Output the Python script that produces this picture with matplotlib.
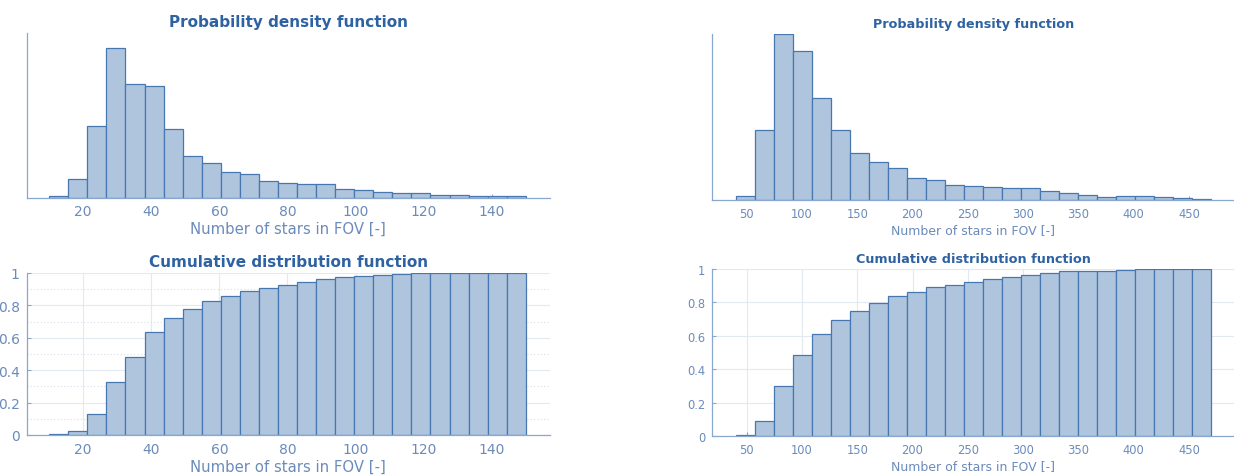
import numpy as np
import matplotlib
matplotlib.use("Agg")
import matplotlib.pyplot as plt
from matplotlib.ticker import FuncFormatter, MultipleLocator

# histogram ranges (first edge, last edge, number of bins)
bins_small = (10, 150, 25)
bins_large = (40, 470, 25)

# star counts per bin, narrow field of view
pdf_small = [4, 57, 214, 449, 340, 335, 206, 124, 105, 76, 71, 50, 45,
             41, 41, 25, 22, 18, 15, 13, 8, 7, 4, 4, 4]
cdf_small = [0.006, 0.027, 0.127, 0.33, 0.48, 0.635, 0.724, 0.78, 0.827,
             0.857, 0.886, 0.906, 0.929, 0.945, 0.961, 0.973, 0.984, 0.988,
             0.994, 0.998, 0.999, 1.0, 1.0, 1.0, 1.0]

# star counts per bin, wide field of view
pdf_large = [13, 209, 499, 447, 306, 209, 140, 113, 97, 67, 59, 46, 43,
             40, 35, 35, 27, 22, 16, 8, 12, 11, 8, 5, 2]
cdf_large = [0.006, 0.09, 0.30, 0.483, 0.609, 0.697, 0.75, 0.798, 0.836,
             0.864, 0.89, 0.906, 0.922, 0.938, 0.954, 0.966, 0.976, 0.986,
             0.99, 0.99, 0.996, 1.0, 1.0, 1.0, 1.0]

ticks_small = [20, 40, 60, 80, 100, 120, 140]
ticks_large = [50, 100, 150, 200, 250, 300, 350, 400, 450]
cdf_ticks = [0, 0.2, 0.4, 0.6, 0.8, 1]

face = "#afc5de"
edge = "#4677b0"
spine = "#8aa7cf"
label_c = "#6b8bbb"
title_c = "#2e62a2"
grid_c = "#e2e9f2"

fig = plt.figure(figsize=(12.34, 4.77), dpi=100)
W, H = 1234.0, 477.0


def box(l, t, r, b):
    return [l / W, 1 - b / H, (r - l) / W, (b - t) / H]


def style(ax, fs):
    for s in ["top", "right"]:
        ax.spines[s].set_visible(False)
    for s in ["left", "bottom"]:
        ax.spines[s].set_color(spine)
        ax.spines[s].set_linewidth(0.9)
    ax.tick_params(direction="in", length=3, width=0.8, color=spine,
                   labelcolor=label_c, labelsize=fs, pad=5)


def draw(ax, rng, heights, xticks, xlim, fs, lfs, tfs, title, cdf=False):
    edges = np.linspace(*rng[:2], rng[2] + 1)
    ax.bar(edges[:-1], heights, width=np.diff(edges), align="edge",
           color=face, edgecolor=edge, linewidth=0.9, zorder=2)
    style(ax, fs)
    ax.set_xlim(*xlim)
    ax.set_xticks(xticks)
    ax.set_xlabel("Number of stars in FOV [-]", fontsize=lfs,
                  color=label_c, labelpad=2)
    ax.set_title(title, fontsize=tfs, fontweight="bold", color=title_c,
                 pad=5)
    if cdf:
        ax.set_ylim(0, 1)
        ax.set_yticks(cdf_ticks)
        ax.yaxis.set_major_formatter(FuncFormatter(lambda v, p: "%g" % v))
        ax.set_axisbelow(True)
        ax.grid(True, color=grid_c, linewidth=0.8)
    else:
        ax.set_yticks([])


ax1 = fig.add_axes(box(26.7, 34.3, 550, 198.5))
draw(ax1, bins_small, pdf_small, ticks_small, (3.4, 157.1), 10, 10.7, 11,
     "Probability density function")
ax1.set_ylim(0, max(pdf_small) * 1.098)

ax2 = fig.add_axes(box(26.7, 274, 550, 436))
draw(ax2, bins_small, cdf_small, ticks_small, (3.4, 157.1), 10, 10.7, 11,
     "Cumulative distribution function", cdf=True)
ax2.yaxis.set_minor_locator(MultipleLocator(0.1))
ax2.grid(True, which="minor", axis="y", color="#d5dfeb", linewidth=0.8,
         linestyle=(0, (1, 2)))
ax2.tick_params(which="minor", length=0)

ax3 = fig.add_axes(box(712.3, 35, 1234, 201))
draw(ax3, bins_large, pdf_large, ticks_large, (18.9, 490.7), 8.3, 9.0, 9.2,
     "Probability density function")
ax3.set_ylim(0, max(pdf_large))

ax4 = fig.add_axes(box(712.3, 270, 1234, 437))
draw(ax4, bins_large, cdf_large, ticks_large, (18.9, 490.7), 8.3, 9.0, 9.2,
     "Cumulative distribution function", cdf=True)

fig.savefig("out.png", dpi=100)
